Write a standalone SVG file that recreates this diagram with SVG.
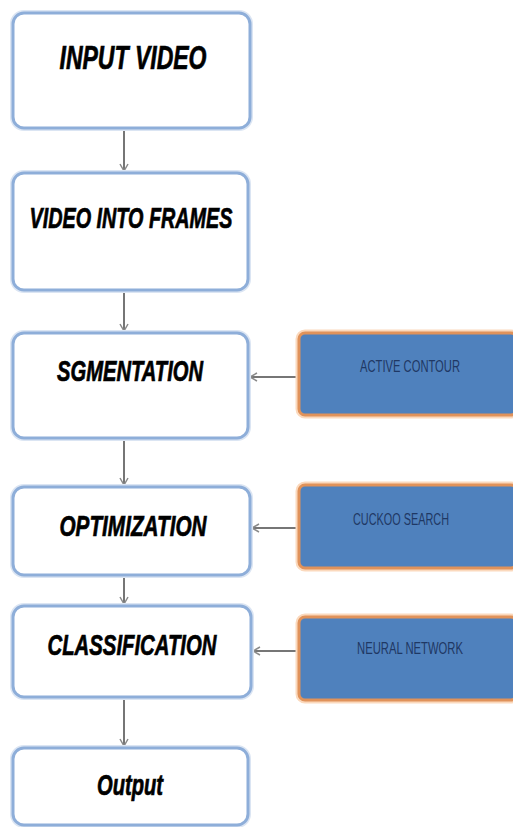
<svg xmlns="http://www.w3.org/2000/svg" width="513" height="827" viewBox="0 0 513 827">
<style>
.box{fill:#ffffff;stroke:#8eaed9;stroke-width:3}
.halo{fill:none;stroke:#dbe5f3;stroke-width:6}
.main{font-family:"Liberation Sans",Arial,sans-serif;font-weight:bold;font-style:italic;fill:#000000;stroke:#000000;stroke-width:0.7;text-anchor:middle}
.side{fill:#4f81bd;stroke:#e0925a;stroke-width:3}
.sidehalo{fill:none;stroke:#fbd9bd;stroke-width:7}
.small{font-family:"Liberation Sans",Arial,sans-serif;fill:#1f3864;text-anchor:middle}
.conn{stroke:#767676;stroke-width:2;fill:none}
</style>
<defs>
<marker id="arr" markerWidth="10" markerHeight="10" refX="8" refY="5" orient="auto" markerUnits="userSpaceOnUse">
<path d="M1,1 L8,5 L1,9" fill="none" stroke="#8a8a8a" stroke-width="1.5"/>
</marker>
</defs>
<rect width="513" height="827" fill="#ffffff"/>
<g id="connectors">
<line class="conn" x1="124" y1="129" x2="124" y2="171" marker-end="url(#arr)"/>
<line class="conn" x1="124" y1="291" x2="124" y2="331" marker-end="url(#arr)"/>
<line class="conn" x1="124" y1="439" x2="124" y2="485" marker-end="url(#arr)"/>
<line class="conn" x1="124" y1="576" x2="124" y2="604" marker-end="url(#arr)"/>
<line class="conn" x1="124" y1="698" x2="124" y2="746" marker-end="url(#arr)"/>
<line class="conn" x1="297" y1="377" x2="250" y2="377" marker-end="url(#arr)"/>
<line class="conn" x1="297" y1="528" x2="252" y2="528" marker-end="url(#arr)"/>
<line class="conn" x1="297" y1="651" x2="253" y2="651" marker-end="url(#arr)" stroke="#a8a8a8"/>
</g>
<g id="input-video">
<rect class="halo" x="13" y="13" width="237" height="115" rx="11"/>
<rect class="box" x="13" y="13" width="237" height="115" rx="11"/>
<text class="main" x="133" y="69" font-size="33" textLength="147" lengthAdjust="spacingAndGlyphs">INPUT VIDEO</text>
</g>
<g id="video-into-frames">
<rect class="halo" x="13" y="173" width="235" height="117" rx="11"/>
<rect class="box" x="13" y="173" width="235" height="117" rx="11"/>
<text class="main" x="131" y="228" font-size="29" textLength="203" lengthAdjust="spacingAndGlyphs">VIDEO INTO FRAMES</text>
</g>
<g id="segmentation">
<rect class="halo" x="13" y="333" width="235" height="105" rx="11"/>
<rect class="box" x="13" y="333" width="235" height="105" rx="11"/>
<text class="main" x="130" y="381" font-size="29" textLength="146" lengthAdjust="spacingAndGlyphs">SGMENTATION</text>
</g>
<g id="optimization">
<rect class="halo" x="13" y="487" width="237" height="88" rx="11"/>
<rect class="box" x="13" y="487" width="237" height="88" rx="11"/>
<text class="main" x="133" y="536" font-size="30" textLength="147" lengthAdjust="spacingAndGlyphs">OPTIMIZATION</text>
</g>
<g id="classification">
<rect class="halo" x="13" y="606" width="238" height="91" rx="11"/>
<rect class="box" x="13" y="606" width="238" height="91" rx="11"/>
<text class="main" x="132" y="655" font-size="30" textLength="169" lengthAdjust="spacingAndGlyphs">CLASSIFICATION</text>
</g>
<g id="output">
<rect class="halo" x="13" y="748" width="235" height="77" rx="11"/>
<rect class="box" x="13" y="748" width="235" height="77" rx="11"/>
<text class="main" x="130" y="795" font-size="29" textLength="66" lengthAdjust="spacingAndGlyphs">Output</text>
</g>
<g id="active-contour">
<rect class="sidehalo" x="299" y="333" width="218" height="82" rx="6"/>
<rect class="side" x="299" y="333" width="218" height="82" rx="6"/>
<text class="small" x="410" y="372" font-size="16" textLength="100" lengthAdjust="spacingAndGlyphs">ACTIVE CONTOUR</text>
</g>
<g id="cuckoo-search">
<rect class="sidehalo" x="299" y="485" width="218" height="83" rx="6"/>
<rect class="side" x="299" y="485" width="218" height="83" rx="6"/>
<text class="small" x="401" y="525" font-size="16" textLength="96" lengthAdjust="spacingAndGlyphs">CUCKOO SEARCH</text>
</g>
<g id="neural-network">
<rect class="sidehalo" x="299" y="617" width="218" height="83" rx="6"/>
<rect class="side" x="299" y="617" width="218" height="83" rx="6"/>
<text class="small" x="410" y="654" font-size="16" textLength="106" lengthAdjust="spacingAndGlyphs">NEURAL NETWORK</text>
</g>
</svg>
